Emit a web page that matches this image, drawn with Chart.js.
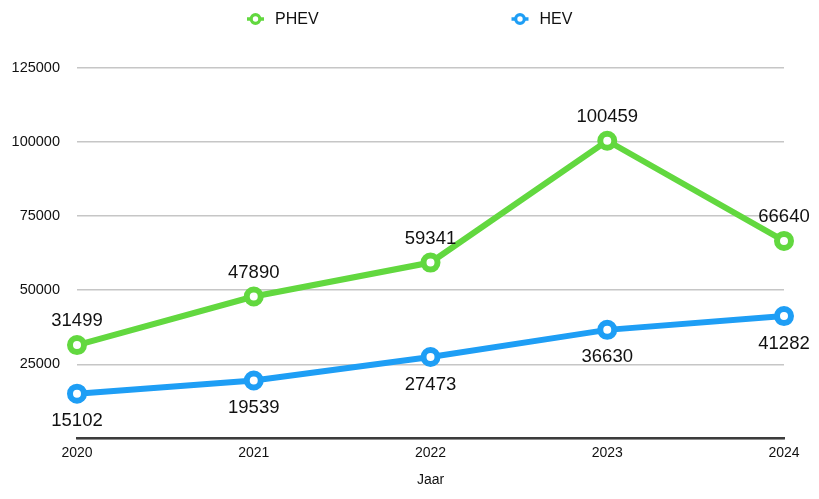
<!DOCTYPE html>
<html><head><meta charset="utf-8">
<script src="https://cdn.jsdelivr.net/npm/chart.js@4"></script>
<style>html,body{margin:0;padding:0;background:#fff}#wrap{width:819px;height:499px}</style>
</head><body><div id="wrap"><canvas id="c"></canvas></div>
<script>
const categories = ['2020','2021','2022','2023','2024'];
const phevValues = [31499, 47890, 59341, 100459, 66640];
const hevValues = [15102, 19539, 27473, 36630, 41282];
const yTicks = [0, 25000, 50000, 75000, 100000, 125000];
const seriesNames = ['PHEV', 'HEV'];

const FONT = '"Liberation Sans", Arial, Helvetica, sans-serif';
const GREEN = '#62d83f';
const BLUE = '#1e9ef5';

const labelPlugin = {
  id: 'valueLabels',
  afterDatasetsDraw(chart) {
    const ctx = chart.ctx;
    ctx.save();
    ctx.font = '18.5px ' + FONT;
    ctx.fillStyle = '#111';
    ctx.textAlign = 'center';
    ctx.textBaseline = 'middle';
    chart.data.datasets.forEach((ds, di) => {
      const meta = chart.getDatasetMeta(di);
      meta.data.forEach((pt, i) => {
        const off = ds.labelPos === 'below' ? 27.5 : -24;
        ctx.fillText(String(ds.data[i]), pt.x, pt.y + off);
      });
    });
    ctx.restore();
  }
};

// Legend drawn from the dataset definitions, items spread like the reference
const legendPlugin = {
  id: 'spreadLegend',
  afterDraw(chart) {
    const ctx = chart.ctx;
    const centers = [255.5, 520];
    const y = 19;
    ctx.save();
    chart.data.datasets.forEach((ds, i) => {
      const cx = centers[i];
      ctx.strokeStyle = ds.borderColor;
      ctx.lineWidth = 3.5;
      ctx.beginPath(); ctx.moveTo(cx - 8.5, y); ctx.lineTo(cx + 8.5, y); ctx.stroke();
      ctx.beginPath(); ctx.arc(cx, y, 4.3, 0, Math.PI * 2);
      ctx.fillStyle = '#fff'; ctx.fill();
      ctx.lineWidth = 3.2; ctx.stroke();
      ctx.fillStyle = '#111';
      ctx.font = '16px ' + FONT;
      ctx.textAlign = 'left';
      ctx.textBaseline = 'middle';
      ctx.fillText(ds.label, cx + 19.5, y + 0.5);
    });
    ctx.restore();
  }
};

new Chart(document.getElementById('c'), {
  type: 'line',
  data: {
    labels: categories,
    datasets: [
      { label: seriesNames[0], data: phevValues, borderColor: GREEN, backgroundColor: '#fff',
        borderWidth: 6, pointRadius: 7, pointBorderWidth: 6, pointBackgroundColor: '#fff',
        pointBorderColor: GREEN, pointHoverRadius: 7, labelPos: 'above', tension: 0 },
      { label: seriesNames[1], data: hevValues, borderColor: BLUE, backgroundColor: '#fff',
        borderWidth: 6, pointRadius: 7, pointBorderWidth: 6, pointBackgroundColor: '#fff',
        pointBorderColor: BLUE, pointHoverRadius: 7, labelPos: 'below', tension: 0 }
    ]
  },
  options: {
    responsive: true, maintainAspectRatio: false, animation: false,
    devicePixelRatio: 1,
    layout: { padding: { left: 0, right: 35, top: 68, bottom: 10 } },
    plugins: {
      tooltip: { enabled: false },
      legend: { display: false }
    },
    scales: {
      x: {
        offset: false,
        grid: { display: false, drawTicks: false },
        border: { display: true, color: '#3c3c3c', width: 2.5 },
        ticks: { color: '#111', font: { family: FONT, size: 14 }, padding: 6, maxRotation: 0 },
        title: { display: true, text: 'Jaar', color: '#111', font: { family: FONT, size: 14 }, padding: { top: 5, bottom: 0 } }
      },
      y: {
        min: 0, max: 125000,
        afterFit(scale) { scale.width = 77; },
        afterBuildTicks(scale) { scale.ticks = yTicks.map(v => ({ value: v })); },
        grid: { color: '#c6c6c6', lineWidth: 1.5, drawTicks: false },
        border: { display: false },
        ticks: { color: '#111', font: { family: FONT, size: 14.5 }, padding: 17,
          callback: (v) => v === 0 ? '' : String(v) }
      }
    }
  },
  plugins: [labelPlugin, legendPlugin]
});
</script></body></html>
